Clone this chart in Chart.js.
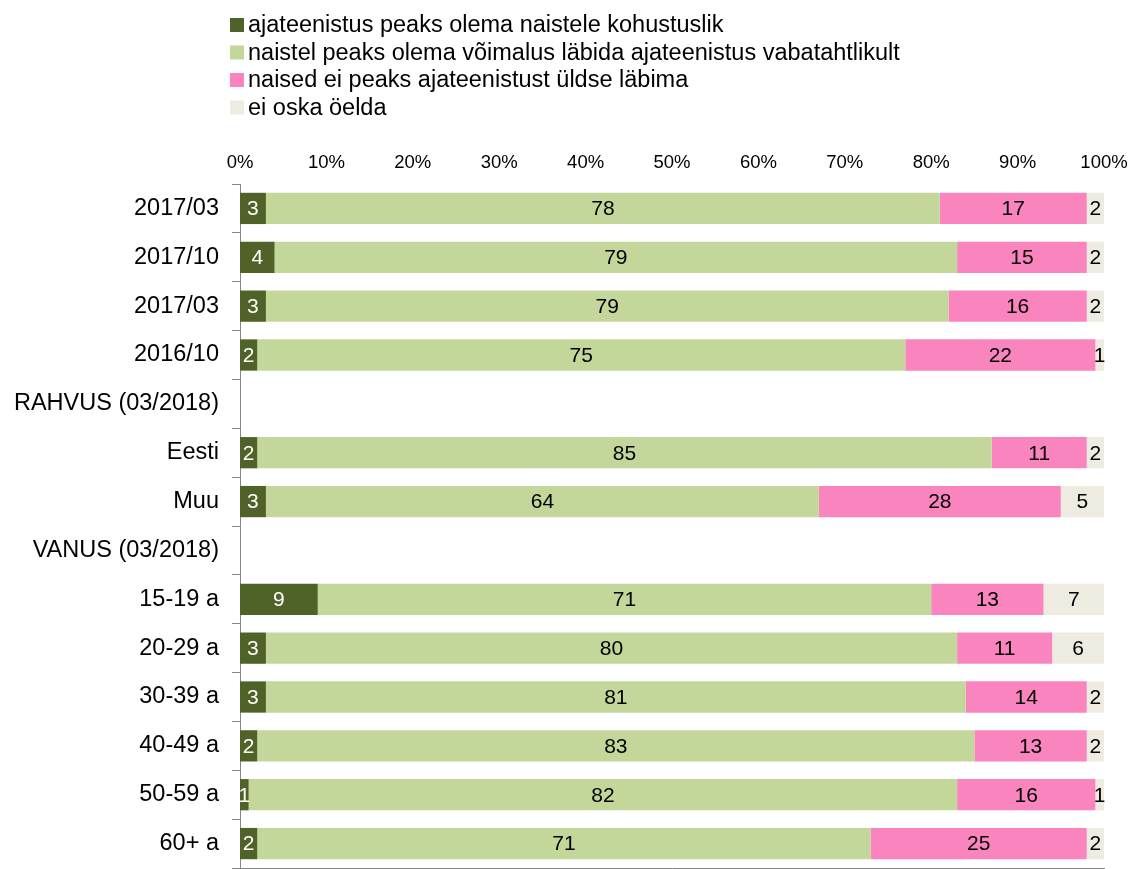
<!DOCTYPE html>
<html>
<head>
<meta charset="utf-8">
<script src="https://cdn.jsdelivr.net/npm/chart.js@4"></script>
<style>
body{margin:0;background:#fff;}
#wrap{width:1132px;height:869px;position:relative;}
</style>
</head>
<body>
<div id="wrap"><canvas id="myChart"></canvas></div>
<script>
// data
const categories = ['2017/03','2017/10','2017/03','2016/10','RAHVUS (03/2018)','Eesti','Muu','VANUS (03/2018)','15-19 a','20-29 a','30-39 a','40-49 a','50-59 a','60+ a'];
const seriesNames = [
  'ajateenistus peaks olema naistele kohustuslik',
  'naistel peaks olema võimalus läbida ajateenistus vabatahtlikult',
  'naised ei peaks ajateenistust üldse läbima',
  'ei oska öelda'
];
const kohustuslik = [3,4,3,2,null,2,3,null,9,3,3,2,1,2];
const vabatahtlik = [78,79,79,75,null,85,64,null,71,80,81,83,82,71];
const eiPeaks     = [17,15,16,22,null,11,28,null,13,11,14,13,16,25];
const eiOska      = [2,2,2,1,null,2,5,null,7,6,2,2,1,2];
const colors = ['#4F6228','#C4D79B','#FA84BE','#EEECE1'];

const FONT = '"Liberation Sans", Arial, sans-serif';

//legend as a list, one item per line
const listLegend = {
  id: 'listLegend',
  afterDraw(chart) {
    const ctx = chart.ctx;
    ctx.save();
    ctx.font = '23.5px ' + FONT;
    ctx.textBaseline = 'middle';
    chart.data.datasets.forEach((ds, i) => {
      const y = 25 + i * 27.5;
      ctx.fillStyle = ds.backgroundColor;
      ctx.fillRect(230, y - 7, 14, 14);
      ctx.fillStyle = '#000';
      ctx.fillText(ds.label, 248, y + 1);
    });
    ctx.restore();
  }
};

//numbers inside the bars
const valueLabels = {
  id: 'valueLabels',
  afterDatasetsDraw(chart) {
    const ctx = chart.ctx;
    ctx.save();
    ctx.font = '21px ' + FONT;
    ctx.textAlign = 'center';
    ctx.textBaseline = 'middle';
    chart.data.datasets.forEach((ds, i) => {
      const meta = chart.getDatasetMeta(i);
      meta.data.forEach((bar, j) => {
        const v = ds.data[j];
        if (v == null) return;
        ctx.fillStyle = i === 0 ? '#fff' : '#000';
        ctx.fillText(v, (bar.x + bar.base) / 2, bar.y + 1);
      });
    });
    ctx.restore();
  }
};

const seriesData = [kohustuslik, vabatahtlik, eiPeaks, eiOska];

const ctx = document.getElementById('myChart');
const myChart = new Chart(ctx, {
  type: 'bar',
  data: {
    labels: categories,
    datasets: seriesData.map((d, i) => ({
      label: seriesNames[i],
      data: d,
      backgroundColor: colors[i],
      borderWidth: 0,
      categoryPercentage: 1,
      barPercentage: 0.64
    }))
  },
  options: {
    indexAxis: 'y',
    responsive: true,
    maintainAspectRatio: false,
    animation: false,
    layout: { padding: { top: 144, right: 28, left: 0, bottom: 1 } },
    plugins: { legend: { display: false }, tooltip: { enabled: false } },
    scales: {
      x: {
        stacked: true,
        position: 'top',
        min: 0,
        max: 100,
        ticks: {
          stepSize: 10,
          padding: 10,
          color: '#000',
          font: { family: FONT, size: 18.5 },
          callback: v => v + '%'
        },
        grid: { display: false, drawTicks: false },
        border: { display: false },
        afterFit: s => { s.height = 40; s.paddingLeft = 0; s.paddingRight = 0; }
      },
      xb: {
        type: 'linear',
        position: 'bottom',
        ticks: { display: false },
        grid: { display: false, drawTicks: false },
        border: { color: '#868686' },
        afterFit: s => { s.height = 0; s.paddingLeft = 0; s.paddingRight = 0; }
      },
      y: {
        stacked: true,
        grid: { drawOnChartArea: false, drawTicks: true, tickLength: 8, color: '#868686', offset: true },
        border: { color: '#868686' },
        ticks: { color: '#000', padding: 13, font: { family: FONT, size: 23.5 } },
        afterFit: s => { s.width = 240; s.paddingTop = 0; s.paddingBottom = 0; }
      }
    }
  },
  plugins: [listLegend, valueLabels]
});
</script>
</body>
</html>
